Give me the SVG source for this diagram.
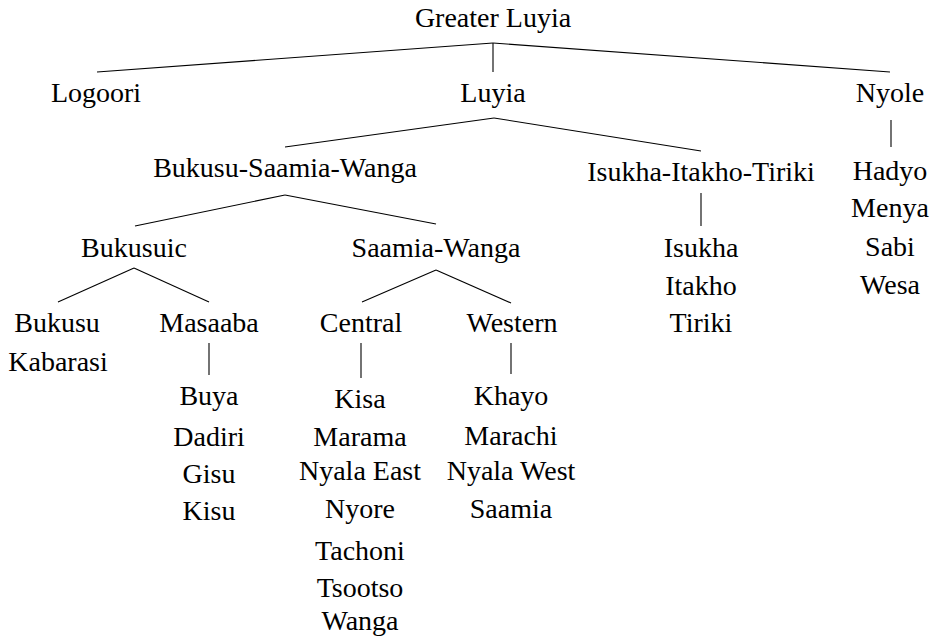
<svg xmlns="http://www.w3.org/2000/svg" width="938" height="638" viewBox="0 0 938 638">
<style>
text{font-size:28px;fill:#000;text-anchor:middle}
.e{stroke:#000;stroke-width:1.1;fill:none}
</style>
<rect width="938" height="638" fill="#fff"/>
<g id="connectors">
<line class="e" x1="493" y1="43" x2="97" y2="72"/>
<line class="e" x1="493" y1="43" x2="493" y2="72"/>
<line class="e" x1="493" y1="43" x2="890" y2="72"/>
<line class="e" x1="494" y1="118" x2="285" y2="147"/>
<line class="e" x1="494" y1="118" x2="701" y2="151"/>
<line class="e" x1="891" y1="120" x2="891" y2="147"/>
<line class="e" x1="285" y1="195" x2="135" y2="226"/>
<line class="e" x1="285" y1="195" x2="436" y2="224"/>
<line class="e" x1="701" y1="193" x2="701" y2="226"/>
<line class="e" x1="134" y1="268" x2="58" y2="302"/>
<line class="e" x1="134" y1="268" x2="209" y2="302"/>
<line class="e" x1="436" y1="270" x2="362" y2="302"/>
<line class="e" x1="436" y1="270" x2="511" y2="303"/>
<line class="e" x1="209" y1="343" x2="209" y2="375"/>
<line class="e" x1="361" y1="343" x2="361" y2="378"/>
<line class="e" x1="511" y1="343" x2="511" y2="374"/>
</g>
<g font-family="'Liberation Serif', 'Times New Roman', 'DejaVu Serif', serif">
<g id="greater-luyia"><text x="493" y="27">Greater Luyia</text></g>
<g id="logoori"><text x="96" y="102">Logoori</text></g>
<g id="luyia"><text x="493" y="102">Luyia</text></g>
<g id="nyole"><text x="890" y="102">Nyole</text></g>
<g id="bukusu-saamia-wanga"><text x="285" y="177">Bukusu-Saamia-Wanga</text></g>
<g id="isukha-itakho-tiriki"><text x="701" y="181">Isukha-Itakho-Tiriki</text></g>
<g id="nyole-list">
<text x="890" y="180">Hadyo</text>
<text x="890" y="217">Menya</text>
<text x="890" y="256">Sabi</text>
<text x="890" y="294">Wesa</text>
</g>
<g id="iit-list">
<text x="701" y="257">Isukha</text>
<text x="701" y="295">Itakho</text>
<text x="701" y="332">Tiriki</text>
</g>
<g id="bukusuic"><text x="134" y="257">Bukusuic</text></g>
<g id="saamia-wanga"><text x="436" y="257">Saamia-Wanga</text></g>
<g id="bukusu"><text x="57" y="332">Bukusu</text><text x="58" y="371">Kabarasi</text></g>
<g id="masaaba"><text x="209" y="332">Masaaba</text></g>
<g id="central"><text x="361" y="332">Central</text></g>
<g id="western"><text x="512" y="332">Western</text></g>
<g id="masaaba-list">
<text x="209" y="405">Buya</text>
<text x="209" y="446">Dadiri</text>
<text x="209" y="483">Gisu</text>
<text x="209" y="520">Kisu</text>
</g>
<g id="central-list">
<text x="360" y="408">Kisa</text>
<text x="360" y="446">Marama</text>
<text x="360" y="480">Nyala East</text>
<text x="360" y="518">Nyore</text>
<text x="360" y="560">Tachoni</text>
<text x="360" y="597">Tsootso</text>
<text x="360" y="630">Wanga</text>
</g>
<g id="western-list">
<text x="511" y="405">Khayo</text>
<text x="511" y="445">Marachi</text>
<text x="511" y="480">Nyala West</text>
<text x="511" y="518">Saamia</text>
</g>
</g>
</svg>
